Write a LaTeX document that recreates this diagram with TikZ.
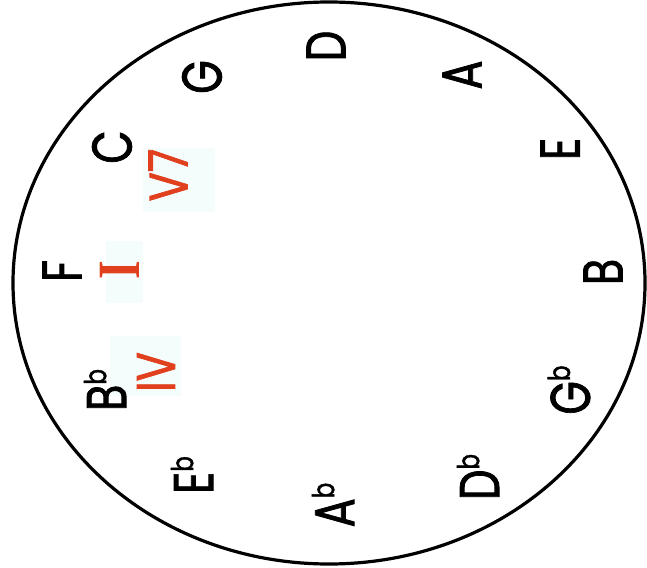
\documentclass[tikz,border=0pt]{standalone}
\usepackage{fontspec}
\setmainfont{Poppins}
\newfontfamily\keyfont{Poppins}[FakeBold=1.6]
\newfontfamily\romfont{Liberation Serif}
\definecolor{chordred}{RGB}{224,64,30}
\definecolor{paleback}{RGB}{245,252,252}
\newcommand\fl{\raisebox{20pt}{\fontsize{30}{30}\selectfont b}}
\tikzset{
  key/.style={font=\keyfont\fontsize{56}{56}\selectfont, rotate=90, xscale=0.77, inner sep=0pt, anchor=center},
  chord/.style={font=\keyfont\fontsize{54}{54}\selectfont, text=chordred, rotate=90, xscale=0.8, inner sep=0pt, anchor=center},
  backbox/.style={fill=paleback, draw=none},
  ring/.style={line width=3.2pt, draw=black}
}
\begin{document}
\begin{tikzpicture}[x=1pt,y=-1pt]
\useasboundingbox (0,0) rectangle (647,567);
% faint backgrounds behind chord labels
\fill[backbox] (143,148) rectangle (215,212);
\fill[backbox] (106,241) rectangle (143,303);
\fill[backbox] (110,336) rectangle (181,396);
% circle
\coordinate (ctr) at (329,283);
\draw[ring] (ctr) ellipse [x radius=316, y radius=281];
% keys
\node[key] (D)  at (326,46)  {D};
\node[key] (A)  at (462,75)  {A};
\node[key] (E)  at (560,149) {E};
\node[key] (B)  at (603,272) {B};
\node[key] (Gb) at (569,390) {G\fl};
\node[key] (Db) at (478,477) {D\fl};
\node[key] (Ab) at (333,505) {A\fl};
\node[key] (Eb) at (192,475) {E\fl};
\node[key] (Bb) at (105,390) {B\fl};
\node[key] (F)  at (62,271)  {F};
\node[key] (C)  at (112,147) {C};
\node[key] (G)  at (202,77)  {G};
% chords
\node[chord] (V7) at (168,175) {V7};
\node[chord, font=\romfont\bfseries\fontsize{60}{60}\selectfont] (I) at (120,270) {I};
\node[chord] (IV) at (156,372) {IV};
\end{tikzpicture}
\end{document}
